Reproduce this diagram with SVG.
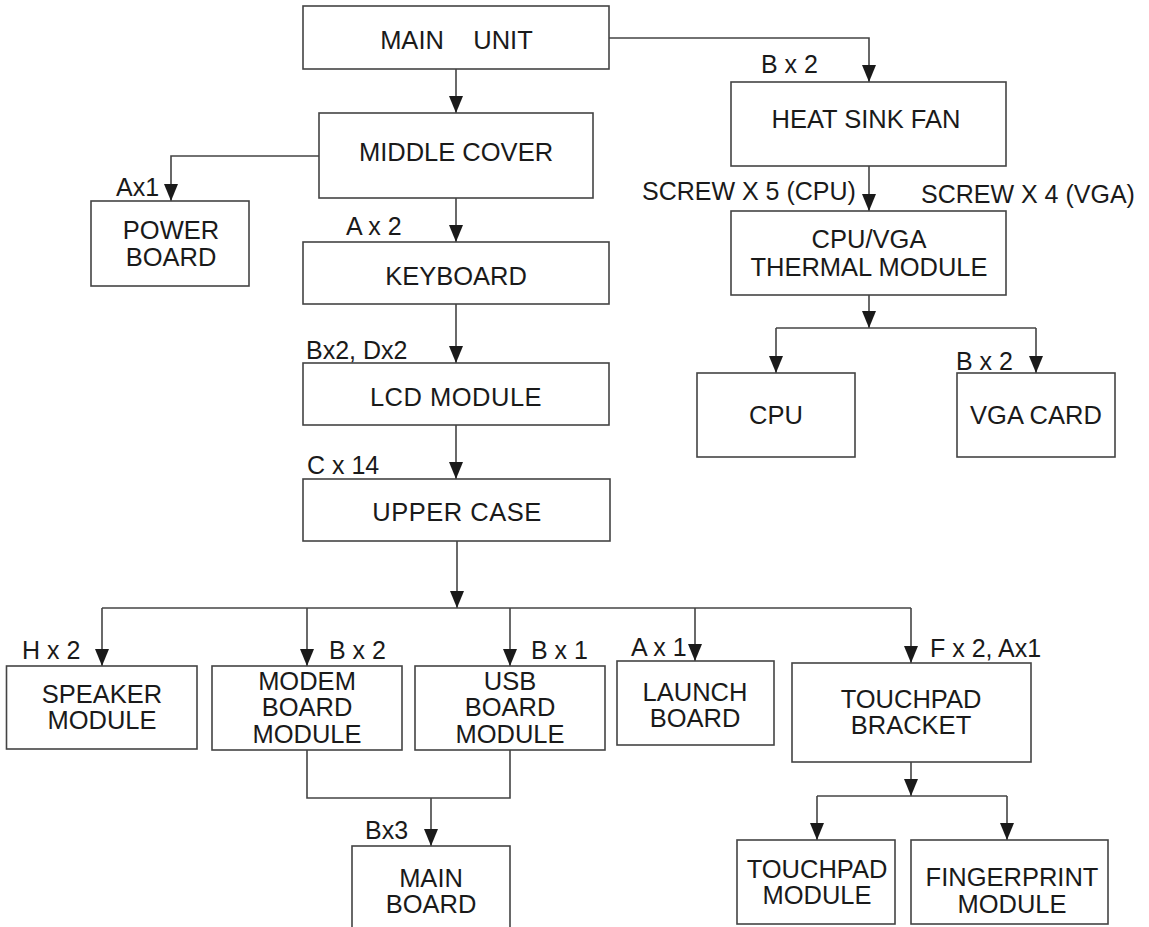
<svg xmlns="http://www.w3.org/2000/svg" width="1149" height="927" viewBox="0 0 1149 927">
<style>
.box{fill:#fff;stroke:#444;stroke-width:1.6}
.t{font-family:"Liberation Sans",Arial,sans-serif;font-size:25.5px;fill:#1a1a1a;text-anchor:middle}
.l{font-family:"Liberation Sans",Arial,sans-serif;font-size:25px;fill:#1a1a1a}
.c{fill:none;stroke:#444;stroke-width:1.6}
</style>
<defs>
<marker id="arr" markerUnits="userSpaceOnUse" markerWidth="17" markerHeight="14" refX="17" refY="7" orient="auto">
<path d="M0,0 L17,7 L0,14 z" fill="#1a1a1a"/>
</marker>
</defs>
<rect width="1149" height="927" fill="#fff"/>
<g id="connectors">
<path class="c" d="M456,69 V113" marker-end="url(#arr)"/>
<path class="c" d="M609,38 H869 V82" marker-end="url(#arr)"/>
<path class="c" d="M319,156 H171 V201" marker-end="url(#arr)"/>
<path class="c" d="M456,198 V242" marker-end="url(#arr)"/>
<path class="c" d="M456,304 V363" marker-end="url(#arr)"/>
<path class="c" d="M456,425 V479" marker-end="url(#arr)"/>
<path class="c" d="M457,541 V608" marker-end="url(#arr)"/>
<path class="c" d="M102,608 H911"/>
<path class="c" d="M102,608 V666" marker-end="url(#arr)"/>
<path class="c" d="M307,608 V666" marker-end="url(#arr)"/>
<path class="c" d="M510,608 V666" marker-end="url(#arr)"/>
<path class="c" d="M695,608 V661" marker-end="url(#arr)"/>
<path class="c" d="M911,608 V663" marker-end="url(#arr)"/>
<path class="c" d="M869,166 V211" marker-end="url(#arr)"/>
<path class="c" d="M869,295 V328" marker-end="url(#arr)"/>
<path class="c" d="M776,328 H1036"/>
<path class="c" d="M776,328 V373" marker-end="url(#arr)"/>
<path class="c" d="M1036,328 V373" marker-end="url(#arr)"/>
<path class="c" d="M307,750 V798 H510 V750"/>
<path class="c" d="M431,798 V846" marker-end="url(#arr)"/>
<path class="c" d="M911,762 V796" marker-end="url(#arr)"/>
<path class="c" d="M817,796 H1007"/>
<path class="c" d="M817,796 V840" marker-end="url(#arr)"/>
<path class="c" d="M1007,796 V840" marker-end="url(#arr)"/>
</g>
<g id="labels">
<text class="l" x="116" y="196">Ax1</text>
<text class="l" x="346" y="235">A x 2</text>
<text class="l" x="761" y="73">B x 2</text>
<text class="l" x="642" y="200">SCREW X 5 (CPU)</text>
<text class="l" x="921" y="203">SCREW X 4 (VGA)</text>
<text class="l" x="306" y="359">Bx2, Dx2</text>
<text class="l" x="956" y="370">B x 2</text>
<text class="l" x="307" y="474">C x 14</text>
<text class="l" x="22" y="659">H x 2</text>
<text class="l" x="329" y="659">B x 2</text>
<text class="l" x="531" y="659">B x 1</text>
<text class="l" x="631" y="656">A x 1</text>
<text class="l" x="930" y="657">F x 2, Ax1</text>
<text class="l" x="365" y="839">Bx3</text>
</g>
<g id="main-unit">
<rect class="box" x="303" y="6" width="306" height="63"/>
<text class="t" x="412" y="49">MAIN</text>
<text class="t" x="503" y="49">UNIT</text>
</g>
<g id="middle-cover">
<rect class="box" x="319" y="113" width="274" height="85"/>
<text class="t" x="456" y="161">MIDDLE COVER</text>
</g>
<g id="power-board">
<rect class="box" x="91" y="201" width="158" height="85"/>
<text class="t" x="171" y="239">POWER</text>
<text class="t" x="171" y="266">BOARD</text>
</g>
<g id="keyboard">
<rect class="box" x="303" y="242" width="306" height="62"/>
<text class="t" x="456" y="285">KEYBOARD</text>
</g>
<g id="lcd-module">
<rect class="box" x="303" y="363" width="306" height="62"/>
<text class="t" x="456" y="406" letter-spacing="0.5">LCD  MODULE</text>
</g>
<g id="upper-case">
<rect class="box" x="303" y="479" width="307" height="62"/>
<text class="t" x="457" y="521" letter-spacing="0.5">UPPER  CASE</text>
</g>
<g id="heat-sink-fan">
<rect class="box" x="731" y="82" width="275" height="84"/>
<text class="t" x="866" y="128">HEAT SINK FAN</text>
</g>
<g id="thermal-module">
<rect class="box" x="731" y="211" width="275" height="84"/>
<text class="t" x="869" y="248">CPU/VGA</text>
<text class="t" x="869" y="276">THERMAL MODULE</text>
</g>
<g id="cpu">
<rect class="box" x="697" y="373" width="158" height="84"/>
<text class="t" x="776" y="424">CPU</text>
</g>
<g id="vga-card">
<rect class="box" x="957" y="373" width="158" height="84"/>
<text class="t" x="1036" y="424">VGA CARD</text>
</g>
<g id="speaker-module">
<rect class="box" x="6.5" y="666" width="190.5" height="83"/>
<text class="t" x="102" y="703">SPEAKER</text>
<text class="t" x="102" y="729">MODULE</text>
</g>
<g id="modem-board-module">
<rect class="box" x="212" y="666" width="190" height="84"/>
<text class="t" x="307" y="690">MODEM</text>
<text class="t" x="307" y="716">BOARD</text>
<text class="t" x="307" y="743">MODULE</text>
</g>
<g id="usb-board-module">
<rect class="box" x="415" y="666" width="190" height="84"/>
<text class="t" x="510" y="690">USB</text>
<text class="t" x="510" y="716">BOARD</text>
<text class="t" x="510" y="743">MODULE</text>
</g>
<g id="launch-board">
<rect class="box" x="617" y="661" width="157" height="84"/>
<text class="t" x="695" y="701">LAUNCH</text>
<text class="t" x="695" y="727">BOARD</text>
</g>
<g id="touchpad-bracket">
<rect class="box" x="792" y="663" width="239" height="99"/>
<text class="t" x="911" y="708">TOUCHPAD</text>
<text class="t" x="911" y="734">BRACKET</text>
</g>
<g id="main-board">
<rect class="box" x="352" y="846" width="158" height="100"/>
<text class="t" x="431" y="887">MAIN</text>
<text class="t" x="431" y="913">BOARD</text>
</g>
<g id="touchpad-module">
<rect class="box" x="737" y="840" width="158" height="84"/>
<text class="t" x="817" y="878">TOUCHPAD</text>
<text class="t" x="817" y="904">MODULE</text>
</g>
<g id="fingerprint-module">
<rect class="box" x="911" y="840" width="197" height="84"/>
<text class="t" x="1012" y="886">FINGERPRINT</text>
<text class="t" x="1012" y="913">MODULE</text>
</g>
</svg>
